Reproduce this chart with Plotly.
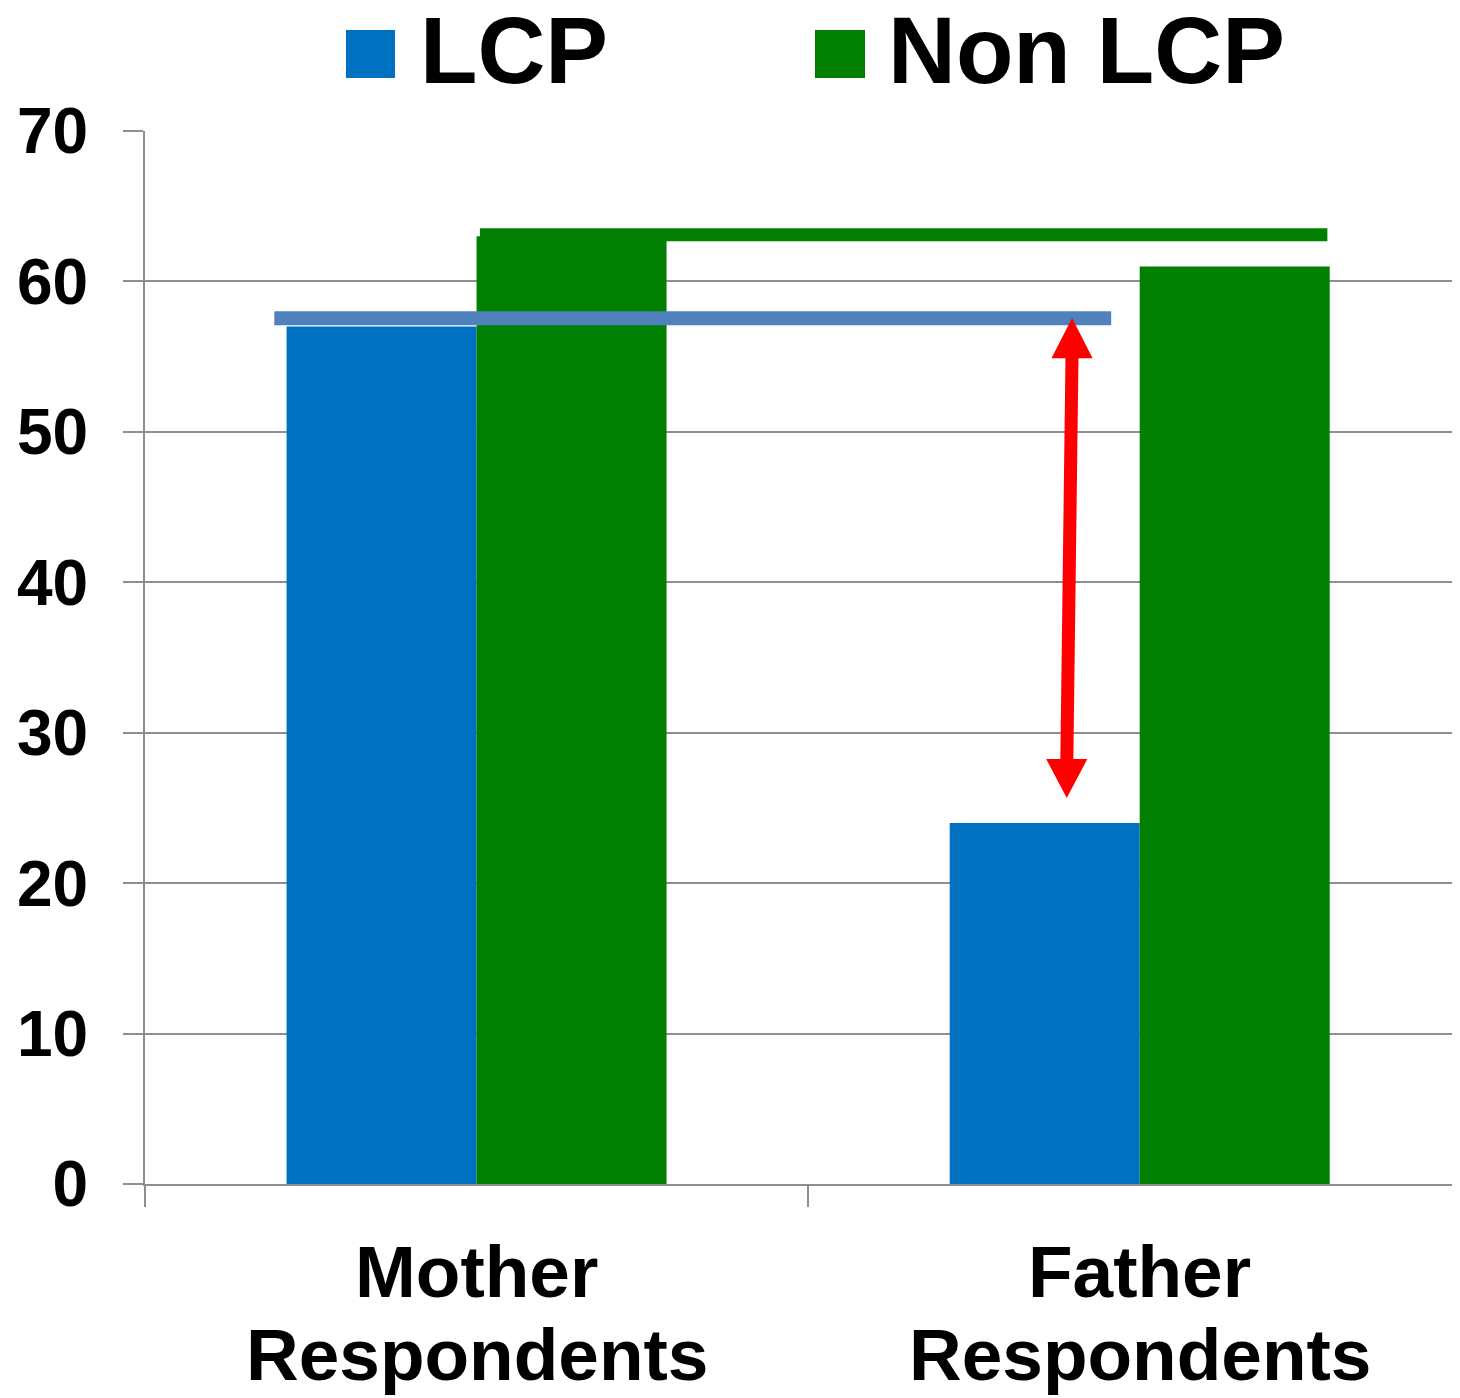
import plotly.graph_objects as go

categories = ["Mother Respondents", "Father Respondents"]
label_line1 = ["Mother", "Father"]
label_line2 = ["Respondents", "Respondents"]
lcp_values = [57, 24]
non_lcp_values = [63, 61]
series_names = ["LCP", "Non LCP"]
y_ticks = [0, 10, 20, 30, 40, 50, 60, 70]

# reference lines (value level, start/end in category units)
lcp_ref = dict(y=57.55, x0=-0.305, x1=0.957)
non_lcp_ref = dict(y=63.1, x0=0.005, x1=1.283)
# red double arrow (category units / values)
arrow = dict(x_top=0.898, y_top=57.57, y_head_top=54.9,
             x_bot=0.890, y_bot=25.66, y_head_bot=28.25, half=0.031)

BLUE = "#0070C0"
GREEN = "#007F00"
GRID = "#8E8E8E"
FONT = "Arial, Liberation Sans, sans-serif"

fig = go.Figure()
fig.add_trace(go.Bar(x=categories, y=lcp_values, name=series_names[0],
                     marker=dict(color=BLUE, line=dict(width=0))))
fig.add_trace(go.Bar(x=categories, y=non_lcp_values, name=series_names[1],
                     marker=dict(color=GREEN, line=dict(width=0))))

shapes = []
shapes.append(dict(type="line", xref="x", yref="y", x0=lcp_ref["x0"], x1=lcp_ref["x1"],
                   y0=lcp_ref["y"], y1=lcp_ref["y"], line=dict(color="#4F81BD", width=14)))
shapes.append(dict(type="line", xref="x", yref="y", x0=non_lcp_ref["x0"], x1=non_lcp_ref["x1"],
                   y0=non_lcp_ref["y"], y1=non_lcp_ref["y"], line=dict(color=GREEN, width=13)))
# arrow shaft
shapes.append(dict(type="line", xref="x", yref="y",
                   x0=arrow["x_top"], y0=arrow["y_head_top"] + 0.5,
                   x1=arrow["x_bot"], y1=arrow["y_head_bot"] - 0.5,
                   line=dict(color="#FF0000", width=13)))
# arrow heads
h = arrow["half"]
shapes.append(dict(type="path", xref="x", yref="y",
                   path=f"M {arrow['x_top']} {arrow['y_top']} L {arrow['x_top']-h} {arrow['y_head_top']} "
                        f"L {arrow['x_top']+h} {arrow['y_head_top']} Z",
                   fillcolor="#FF0000", line=dict(width=0)))
shapes.append(dict(type="path", xref="x", yref="y",
                   path=f"M {arrow['x_bot']} {arrow['y_bot']} L {arrow['x_bot']-h} {arrow['y_head_bot']} "
                        f"L {arrow['x_bot']+h} {arrow['y_head_bot']} Z",
                   fillcolor="#FF0000", line=dict(width=0)))

# custom legend (paper coords, page pixels -> plot fraction)
PW, PH, L, T = 1315.0, 1053.0, 145.0, 131.0
def px(xp):
    return (xp - L) / PW
def py(yp):
    return (T + PH - yp) / PH

legend_items = [(346, 395, 422, BLUE, series_names[0]), (815, 865, 890, GREEN, series_names[1])]
annotations = []
for x0, x1, xt, col, name in legend_items:
    shapes.append(dict(type="rect", xref="paper", yref="paper", x0=px(x0), x1=px(x1),
                       y0=py(78), y1=py(30), fillcolor=col, line=dict(width=0)))
    annotations.append(dict(xref="paper", yref="paper", x=px(xt - 4), y=py(50), text=f"<b>{name}</b>",
                            showarrow=False, xanchor="left", yanchor="middle",
                            font=dict(family=FONT, size=94, color="black")))

for cat, l1, l2 in zip(categories, label_line1, label_line2):
    annotations.append(dict(xref="x", yref="paper", x=cat, y=py(1271), text=f"<b>{l1}</b>",
                            showarrow=False, xanchor="center", yanchor="middle",
                            font=dict(family=FONT, size=73, color="black")))
    annotations.append(dict(xref="x", yref="paper", x=cat, y=py(1354), text=f"<b>{l2}</b>",
                            showarrow=False, xanchor="center", yanchor="middle",
                            font=dict(family=FONT, size=73, color="black")))

# page has an 8px body margin: figure is placed at (8, 8)
fig.update_layout(
    width=1452, height=1390,
    margin=dict(l=137, r=0, t=123, b=214, pad=0),
    paper_bgcolor="white", plot_bgcolor="white",
    barmode="group", bargap=0.427, bargroupgap=0,
    showlegend=False,
    shapes=shapes, annotations=annotations,
    font=dict(family=FONT, color="black"),
    xaxis=dict(range=[-0.5, 1.483], showticklabels=False, tickson="boundaries",
               ticks="outside", ticklen=21, tickwidth=2, tickcolor=GRID,
               showgrid=False, showline=True, linecolor=GRID, linewidth=2, zeroline=False),
    yaxis=dict(range=[0, 70], tickvals=y_ticks, ticktext=[f"<b>{v}</b>" for v in y_ticks],
               ticks="outside", ticklen=20, tickwidth=2, tickcolor=GRID,
               showgrid=True, gridcolor=GRID, gridwidth=2, zeroline=False,
               showline=True, linecolor=GRID, linewidth=2,
               tickfont=dict(family=FONT, size=64, color="black"), ticklabelstandoff=22),
)

fig.write_html("out.html")
